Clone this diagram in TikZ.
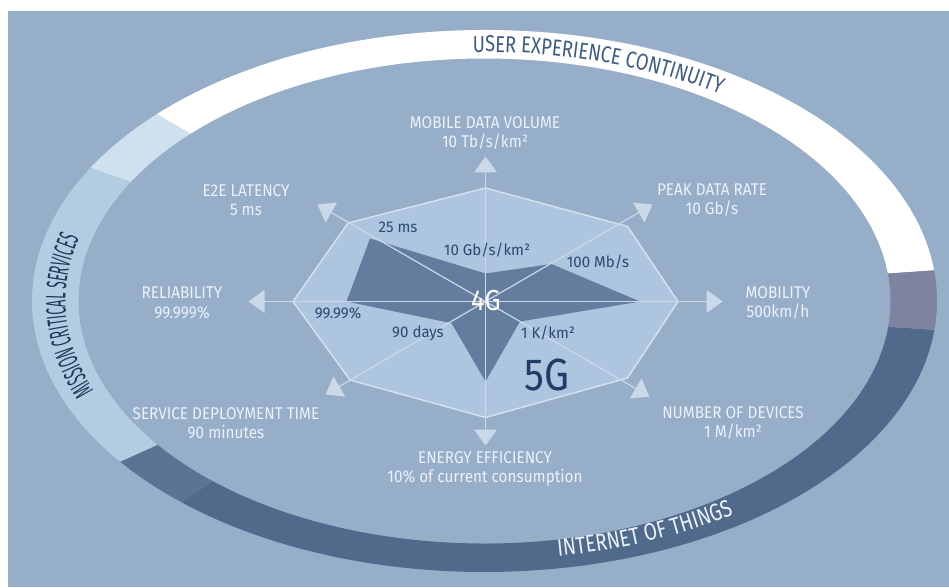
\documentclass[tikz,border=0pt]{standalone}
\usepackage{fontspec}
\setmainfont{Fira Sans}
\newfontfamily\labfont[FakeStretch=0.9]{Fira Sans}
\newfontfamily\ringfont[FakeStretch=0.8]{Fira Sans}
\newfontfamily\mcsfont[FakeStretch=0.46]{Fira Sans}
\newfontfamily\innfont[FakeStretch=0.97]{Fira Sans}
\newfontfamily\bigfont[FakeStretch=0.88]{Fira Sans}
\usetikzlibrary{arrows.meta,calc,decorations.text}
\definecolor{bg}{HTML}{97AEC9}
\definecolor{palecol}{HTML}{CFE1EF}
\definecolor{mccol}{HTML}{B3CCE2}
\definecolor{darkone}{HTML}{5C7393}
\definecolor{darkcol}{HTML}{506A8B}
\definecolor{greycol}{HTML}{7E839F}
\definecolor{ringtxt}{HTML}{3F5B80}
\definecolor{mcstxt}{HTML}{1E3659}
\definecolor{labwhite}{HTML}{EBF1F8}
\definecolor{inntxt}{HTML}{294A71}
\definecolor{fivegcol}{HTML}{1F3E66}
\definecolor{octofill}{HTML}{ADC5DE}
\definecolor{octoline}{HTML}{D3E0EE}
\definecolor{polyfill}{HTML}{647D9E}
\definecolor{axiscol}{HTML}{CAD8E8}
\tikzset{
  outlab/.style={font=\labfont\fontsize{17}{19.5}\selectfont, text=labwhite, align=center, inner sep=0pt},
  innlab/.style={font=\innfont\fontsize{15.5}{17}\selectfont, text=inntxt, inner sep=0pt},
  axis/.style={draw=axiscol, line width=1.2pt, -{Triangle[width=23pt,length=16pt]}},
  octo/.style={fill=octofill, draw=octoline, line width=1.5pt, line join=miter},
  starpoly/.style={fill=polyfill}
}
\begin{document}
\begin{tikzpicture}[x=1pt,y=1pt]
\useasboundingbox (0,0) rectangle (949,587);
\fill[white] (0,0) rectangle (949,587);
\fill[bg] (8,0) rectangle (949,576);
\coordinate (C) at (484.5,286);
% ring segments
\foreach \a/\b/\c in {6.5/136.4/white, 136.4/150.6/palecol, 150.6/216.4/mccol, 216.4/228/darkone, 228/353.9/darkcol, -6.1/6.5/greycol}{
  \fill[\c] ($(C)+(\a:452.5pt and 271pt)$) arc[start angle=\a, end angle=\b, x radius=452.5pt, y radius=271pt]
    -- ($(C)+(\b:406pt and 242.5pt)$) arc[start angle=\b, end angle=\a, x radius=406pt, y radius=242.5pt] -- cycle;
}
% ring texts
\path[decorate, decoration={text along path, text align=center, text color=ringtxt,
  text={|\ringfont\fontsize{23}{23}\selectfont|USER EXPERIENCE CONTINUITY}}]
  ($(C)+(96:422pt and 249pt)$) arc[start angle=96, end angle=51, x radius=422pt, y radius=249pt];
\path[decorate, decoration={text along path, text align=center, text color=mcstxt,
  text={|\mcsfont\fontsize{28}{28}\selectfont|MISSION CRITICAL SERVICES}}]
  ($(C)+(210:419pt and 248pt)$) arc[start angle=210, end angle=156, x radius=419pt, y radius=248pt];
\path[decorate, decoration={text along path, text align=center, text color=labwhite,
  text={|\ringfont\fontsize{24}{24}\selectfont|INTERNET OF THINGS}}]
  ($(C)+(269:440pt and 259pt)$) arc[start angle=269, end angle=317, x radius=440pt, y radius=259pt];
% radar
\coordinate (R) at (485.5,285.5);
\draw[octo] ($(R)+(0,113.5)$) -- ($(R)+(142,75)$) -- ($(R)+(192.5,0)$) -- ($(R)+(142,-76.5)$)
  -- ($(R)+(0,-116)$) -- ($(R)+(-135.5,-78.5)$) -- ($(R)+(-192.5,0)$) -- ($(R)+(-137.5,78.5)$) -- cycle;
\fill[starpoly] ($(R)+(0,28)$) -- ($(R)+(66,37.5)$) -- ($(R)+(154.5,0)$) -- ($(R)+(34.5,-20)$)
  -- ($(R)+(0,-80)$) -- ($(R)+(-34,-21.7)$) -- ($(R)+(-139,0)$) -- ($(R)+(-115.5,63)$) -- cycle;
\coordinate (tN) at ($(R)+(0,145)$);
\coordinate (tS) at ($(R)+(0,-144)$);
\coordinate (tE) at ($(R)+(237,0)$);
\coordinate (tW) at ($(R)+(-237,0)$);
\coordinate (tNE) at ($(R)+(167,97)$);
\coordinate (tNW) at ($(R)+(-168,97)$);
\coordinate (tSW) at ($(R)+(-160,-93)$);
\coordinate (tSE) at ($(R)+(164,-95)$);
\foreach \t in {tN,tS,tE,tW,tNE,tNW,tSW,tSE}{\draw[axis] (R) -- (\t);}
% outer labels
\node[outlab] (mdv) at (485,454) {MOBILE DATA VOLUME\\10 Tb/s/km²};
\node[outlab] (pdr) at (712,387) {PEAK DATA RATE\\10 Gb/s};
\node[outlab] (e2e) at (246,387) {E2E LATENCY\\5 ms};
\node[outlab] (rel) at (182,284) {RELIABILITY\\99.999\%};
\node[outlab] (mob) at (778,284) {MOBILITY\\500km/h};
\node[outlab] (sdt) at (226,164) {SERVICE DEPLOYMENT TIME\\90 minutes};
\node[outlab] (nod) at (733,164) {NUMBER OF DEVICES\\1 M/km²};
\node[outlab] (enf) at (485,118) {ENERGY EFFICIENCY\\10\% of current consumption};
% inner labels
\node[innlab] (i1) at (398,360) {25 ms};
\node[innlab] (i2) at (487,337) {10 Gb/s/km²};
\node[innlab] (i3) at (598,325) {100 Mb/s};
\node[innlab] (i4) at (338,274) {99.99\%};
\node[innlab] (i5) at (418,254) {90 days};
\node[innlab] (i6) at (548,254) {1 K/km²};
\node[font=\bigfont\fontsize{29}{29}\selectfont, text=white, inner sep=0pt] (g4) at (486,286) {4G};
\node[font=\bigfont\fontsize{45}{45}\selectfont, text=fivegcol, inner sep=0pt] (g5) at (547,212) {5G};
\end{tikzpicture}
\end{document}
